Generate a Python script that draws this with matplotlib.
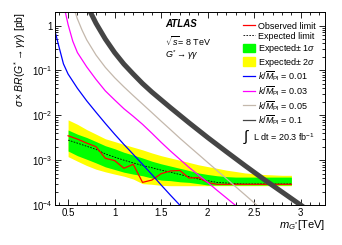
import matplotlib
matplotlib.use('Agg')
import matplotlib.pyplot as plt
from matplotlib.lines import Line2D
from matplotlib.patches import Patch

plt.rcParams['font.family'] = ['Liberation Sans', 'DejaVu Sans']
plt.rcParams['mathtext.fontset'] = 'custom'
plt.rcParams['mathtext.rm'] = 'Liberation Sans'
plt.rcParams['mathtext.it'] = 'Liberation Sans:italic'
plt.rcParams['mathtext.bf'] = 'Liberation Sans:bold'
plt.rcParams['font.size'] = 6.5

# limits vs graviton mass [TeV], cross section in pb
mass = [0.5, 0.6, 0.7, 0.8, 0.9, 1.0, 1.1, 1.2, 1.3, 1.4, 1.5, 1.6, 1.7,
        1.8, 1.9, 2.0, 2.1, 2.2, 2.3, 2.4, 2.5, 2.6, 2.7, 2.8, 2.9]
observed = [3.5e-3, 2.95e-3, 2.4e-3, 2.0e-3, 1.1e-3, 9.8e-4, 6.6e-4, 8.1e-4,
            3.2e-4, 3.6e-4, 5.0e-4, 5.75e-4, 5.9e-4, 4.0e-4, 4.1e-4, 3.2e-4,
            2.9e-4, 2.9e-4, 2.9e-4, 2.9e-4, 2.9e-4, 2.9e-4, 2.9e-4, 2.9e-4, 2.9e-4]
expected = [2.8e-3, 2.4e-3, 2.04e-3, 1.74e-3, 1.38e-3, 1.17e-3, 1.0e-3, 8.7e-4,
            7.6e-4, 6.8e-4, 6.0e-4, 5.4e-4, 4.8e-4, 4.3e-4, 3.8e-4, 3.5e-4,
            3.2e-4, 3.1e-4, 3.0e-4, 2.95e-4, 2.95e-4, 2.95e-4, 2.95e-4, 2.95e-4, 2.95e-4]
exp_1s_up = [4.7e-3, 3.8e-3, 3.2e-3, 2.6e-3, 2.1e-3, 1.8e-3, 1.5e-3, 1.3e-3,
             1.12e-3, 9.5e-4, 8.3e-4, 7.4e-4, 6.6e-4, 5.9e-4, 5.2e-4, 4.8e-4,
             4.5e-4, 4.3e-4, 4.2e-4, 4.2e-4, 4.2e-4, 4.2e-4, 4.2e-4, 4.2e-4, 4.2e-4]
exp_1s_dn = [1.6e-3, 1.26e-3, 1.05e-3, 8.7e-4, 7.1e-4, 6.2e-4, 5.4e-4, 4.9e-4,
             4.5e-4, 4.0e-4, 3.6e-4, 3.5e-4, 3.3e-4, 3.2e-4, 3.0e-4, 2.8e-4,
             2.8e-4, 2.8e-4, 2.8e-4, 2.8e-4, 2.8e-4, 2.8e-4, 2.8e-4, 2.8e-4, 2.8e-4]
exp_2s_up = [7.9e-3, 6.3e-3, 4.8e-3, 3.8e-3, 3.0e-3, 2.6e-3, 2.24e-3, 1.95e-3,
             1.7e-3, 1.45e-3, 1.26e-3, 1.12e-3, 1.0e-3, 8.9e-4, 7.9e-4, 7.2e-4,
             6.6e-4, 6.0e-4, 5.6e-4, 5.2e-4, 5.0e-4, 4.8e-4, 4.7e-4, 4.6e-4, 4.6e-4]
exp_2s_dn = [1.2e-3, 9.5e-4, 7.6e-4, 6.3e-4, 5.5e-4, 4.9e-4, 4.4e-4, 3.8e-4,
             3.0e-4, 2.9e-4, 2.75e-4, 2.7e-4, 2.7e-4, 2.7e-4, 2.7e-4, 2.7e-4,
             2.7e-4, 2.7e-4, 2.7e-4, 2.7e-4, 2.7e-4, 2.7e-4, 2.7e-4, 2.7e-4, 2.7e-4]

# RS graviton predictions
m_k001 = [0.36, 0.40, 0.45, 0.50, 0.60, 0.70, 0.80, 0.90, 1.00, 1.10, 1.20,
          1.30, 1.40, 1.50, 1.60, 1.70, 1.80]
xs_k001 = [0.74, 0.35, 0.14, 0.083, 0.040, 0.021, 0.0117, 6.6e-3, 3.8e-3,
           2.24e-3, 1.35e-3, 8.1e-4, 4.8e-4, 2.8e-4, 1.66e-4, 1.0e-4, 6.0e-5]
m_k003 = [0.47, 0.50, 0.55, 0.60, 0.70, 0.80, 0.90, 1.00, 1.10, 1.20, 1.30,
          1.40, 1.50, 1.60, 1.70, 1.80, 1.90, 2.00, 2.10, 2.20, 2.30]
xs_k003 = [2.0, 1.05, 0.45, 0.25, 0.12, 0.063, 0.035, 0.022, 0.014, 9.5e-3,
           6.3e-3, 4.0e-3, 2.5e-3, 1.6e-3, 1.05e-3, 6.9e-4, 4.7e-4, 3.2e-4,
           2.14e-4, 1.45e-4, 9.8e-5]
m_k005 = [0.575, 0.60, 0.65, 0.70, 0.80, 0.90, 1.00, 1.10, 1.20, 1.30, 1.40,
          1.50, 1.60, 1.70, 1.80, 1.90, 2.00, 2.10, 2.20, 2.30, 2.40, 2.50, 2.55]
xs_k005 = [2.0, 1.41, 0.79, 0.48, 0.22, 0.117, 0.069, 0.043, 0.0275, 0.0178,
           0.0115, 7.4e-3, 4.8e-3, 3.1e-3, 2.04e-3, 1.35e-3, 8.9e-4, 5.9e-4,
           3.9e-4, 2.57e-4, 1.7e-4, 1.12e-4, 9.1e-5]
m_k01 = [0.72, 0.80, 0.90, 1.00, 1.10, 1.20, 1.30, 1.40, 1.60, 1.80, 2.00,
         2.20, 2.40, 2.60, 2.80, 3.00, 3.10]
xs_k01 = [2.4, 1.12, 0.50, 0.25, 0.138, 0.083, 0.051, 0.033, 0.0148, 6.8e-3,
          3.2e-3, 1.55e-3, 7.6e-4, 3.8e-4, 1.95e-4, 1.0e-4, 7.1e-5]

fig = plt.figure(figsize=(3.42, 2.45), dpi=100)
ax = fig.add_axes([0.161, 0.163, 0.789, 0.788])

ax.fill_between(mass, exp_2s_dn, exp_2s_up, color='#ffff00', lw=0)
ax.fill_between(mass, exp_1s_dn, exp_1s_up, color='#00ff00', lw=0)
ax.plot(mass, expected, color='black', ls=(0, (2, 1.5)), lw=0.6)
ax.plot(mass, observed, color='red', lw=0.9)

ax.plot(m_k001, xs_k001, color='#0000ff', lw=0.9)
ax.plot(m_k003, xs_k003, color='#ff00ff', lw=0.9)
ax.plot(m_k005, xs_k005, color='#c4b8ac', lw=0.9)
ax.plot(m_k01, xs_k01, color='#454545', lw=3.6, solid_capstyle='butt')

ax.set_yscale('log')
ax.set_xlim(0.36, 3.26)
ax.set_ylim(1e-4, 2)
ax.set_xticks([0.5, 1, 1.5, 2, 2.5, 3])
ax.set_xticklabels(['0.5', '1', '1.5', '2', '2.5', '3'])
ax.set_xticks([0.4 + 0.1 * i for i in range(29)], minor=True)
ax.set_yticks([1e-4, 1e-3, 1e-2, 1e-1, 1])
ax.set_yticklabels(['10$^{-4}$', '10$^{-3}$', '10$^{-2}$', '10$^{-1}$', '1'])
ax.tick_params(which='both', direction='in', top=True, right=True, width=0.6,
               labelsize=7, pad=2)
ax.tick_params(which='major', length=4.5)
ax.tick_params(which='minor', length=2.2)
for s in ax.spines.values():
    s.set_linewidth(0.7)

ax.set_xlabel(r'$m_{G^{*}}$[TeV]', loc='right', fontsize=8)
ax.xaxis.set_label_coords(1.0, -0.065)
ax.set_ylabel(r'$\sigma\times BR(G^{*}\rightarrow\gamma\gamma)$ [pb]', loc='top', fontsize=7.5)
ax.yaxis.set_label_coords(-0.1, 1.0)

ax.text(0.407, 0.938, 'ATLAS', transform=ax.transAxes, fontsize=7,
        fontweight='bold', fontstyle='italic', va='center')
ax.text(0.407, 0.848, r'$\sqrt{s}$= 8 TeV', transform=ax.transAxes, fontsize=6.5, va='center')
ax.text(0.407, 0.778, r'$G^{*}\rightarrow\gamma\gamma$', transform=ax.transAxes,
        fontsize=6.5, va='center')
ax.text(0.695, 0.352, r'$\int$', transform=ax.transAxes, fontsize=11, va='center')
ax.text(0.735, 0.352, r'L dt = 20.3 fb$^{-1}$', transform=ax.transAxes,
        fontsize=6.5, va='center')

handles = [
    Line2D([], [], color='red', lw=0.9),
    Line2D([], [], color='black', ls=(0, (2, 1.5)), lw=0.6),
    Patch(color='#00ff00'),
    Patch(color='#ffff00'),
    Line2D([], [], color='#0000ff', lw=0.9),
    Line2D([], [], color='#ff00ff', lw=0.9),
    Line2D([], [], color='#c4b8ac', lw=0.9),
    Line2D([], [], color='#454545', lw=0.9),
]
labels = ['Observed limit', 'Expected limit', r'Expected$\pm$ 1$\sigma$',
          r'Expected$\pm$ 2$\sigma$',
          r'$k/\overline{M}_{\rm Pl}$ = 0.01', r'$k/\overline{M}_{\rm Pl}$ = 0.03',
          r'$k/\overline{M}_{\rm Pl}$ = 0.05', r'$k/\overline{M}_{\rm Pl}$ = 0.1']
ax.legend(handles, labels, loc='upper left', bbox_to_anchor=(0.696, 0.95),
          frameon=False, fontsize=6.5, handlelength=1.3, handleheight=1.0,
          handletextpad=0.4, labelspacing=0.1, borderpad=0, borderaxespad=0)

fig.savefig('out.png', dpi=100)
